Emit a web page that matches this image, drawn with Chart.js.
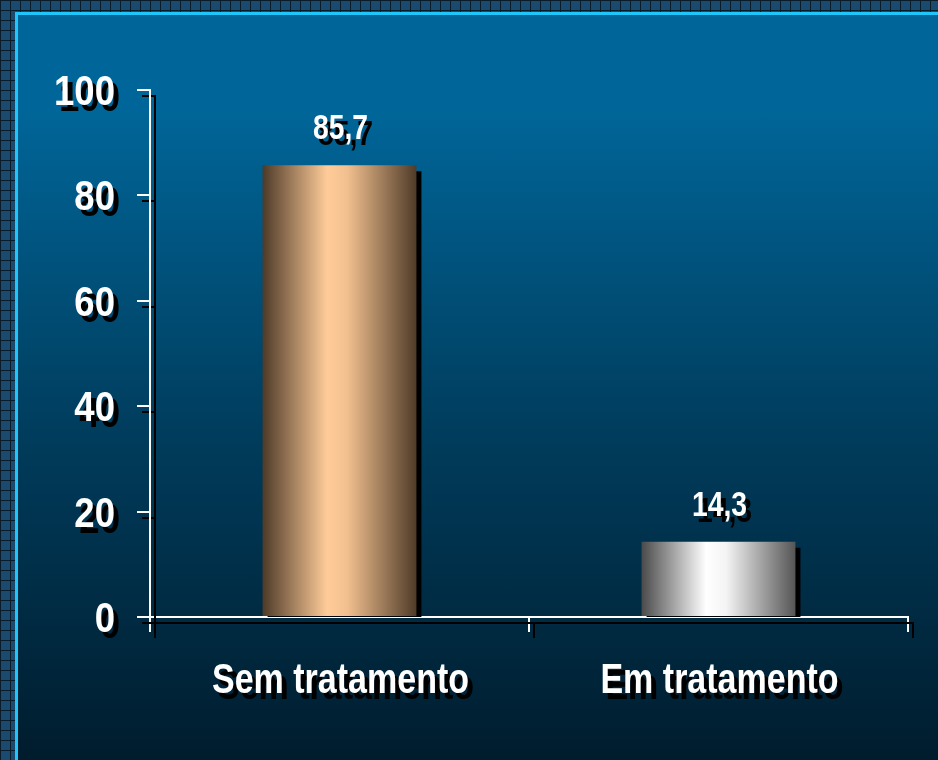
<!DOCTYPE html>
<html>
<head>
<meta charset="utf-8">
<script src="https://cdn.jsdelivr.net/npm/chart.js@4.4.1/dist/chart.umd.min.js"></script>
<style>
  html, body { margin:0; padding:0; width:938px; height:760px; overflow:hidden; }
  body {
    background-color:#1b4a6f;
    background-image:
      linear-gradient(to right, #0a1b2a 1px, transparent 1px),
      linear-gradient(to bottom, #0a1b2a 1px, transparent 1px);
    background-size:10px 10px;
    position:relative;
  }
  #panel {
    position:absolute; left:15px; top:12px; width:940px; height:770px;
    border:3px solid #1ec6fb;
    background:linear-gradient(to bottom, #006699 0%, #006699 12%, #003c5c 55%, #001a2a 100%);
  }
  #wrap { position:absolute; left:0; top:0; width:938px; height:760px; }
</style>
</head>
<body>
<div id="panel"></div>
<div id="wrap"><canvas id="c" width="938" height="760"></canvas></div>
<script>
const categories = ['Sem tratamento', 'Em tratamento'];
const values = [85.7, 14.3];
const yTicks = [0, 20, 40, 60, 80, 100];

const FONT = "'Liberation Sans', Arial, sans-serif";
const BAR_PCT = 0.406;

const gradStops = [
  [[0, '#4e3a28'], [0.42, '#ffcc99'], [0.55, '#f2c08f'], [1, '#4f3b29']],
  [[0, '#4a4a4a'], [0.42, '#ffffff'], [0.55, '#f4f4f4'], [1, '#555555']]
];

function barFill(ctx) {
  const chart = ctx.chart;
  const xs = chart.scales.x;
  if (!xs || !chart.chartArea) return '#ccc';
  const i = ctx.dataIndex;
  const cx = xs.getPixelForValue(i);
  const w = (chart.chartArea.right - chart.chartArea.left) / categories.length * BAR_PCT;
  const g = chart.ctx.createLinearGradient(cx - w / 2, 0, cx + w / 2, 0);
  gradStops[i].forEach(s => g.addColorStop(s[0], s[1]));
  return g;
}

// draw condensed text (the reference uses a narrow bold face)
function condText(c, txt, x, y, size, sx, align) {
  c.save();
  c.font = 'bold ' + size + 'px ' + FONT;
  c.fillStyle = '#ffffff';
  c.textBaseline = 'alphabetic';
  c.textAlign = align;
  c.translate(x, y);
  c.scale(sx, 1);
  c.fillText(txt, 0, 0);
  c.restore();
}

const shadowPlugin = {
  id: 'shadow',
  beforeDraw(chart) {
    const c = chart.ctx;
    c.shadowColor = '#000';
    c.shadowOffsetX = 5;
    c.shadowOffsetY = 6;
    c.shadowBlur = 0;
  },
  afterDraw(chart) {
    const c = chart.ctx;
    const meta = chart.getDatasetMeta(0);
    // value labels above bars
    meta.data.forEach((bar, i) => {
      const txt = values[i].toFixed(1).replace('.', ',');
      condText(c, txt, bar.x + 1, bar.y - 26, 35, 0.81, 'center');
    });
    // y tick labels
    const ys = chart.scales.y;
    const yOpt = ys.options;
    const xRight = ys.right - yOpt.grid.tickLength - yOpt.ticks.padding;
    ys.ticks.forEach(t => {
      condText(c, String(t.value), xRight, ys.getPixelForValue(t.value) + 15, 42, 0.87, 'right');
    });
    // x category labels
    const xs = chart.scales.x;
    categories.forEach((lab, i) => {
      condText(c, lab, xs.getPixelForValue(i) + 1, xs.top + 76, 42, 0.81, 'center');
    });
    c.shadowColor = 'rgba(0,0,0,0)';
    c.shadowOffsetX = 0;
    c.shadowOffsetY = 0;
  }
};

new Chart(document.getElementById('c'), {
  type: 'bar',
  data: {
    labels: categories,
    datasets: [{
      data: values,
      backgroundColor: barFill,
      borderWidth: 0,
      barPercentage: BAR_PCT,
      categoryPercentage: 1
    }]
  },
  options: {
    responsive: false,
    animation: false,
    events: [],
    layout: { padding: { top: 90, right: 30, left: 0, bottom: 0 } },
    plugins: { legend: { display: false }, tooltip: { enabled: false } },
    scales: {
      x: {
        z: 1,
        offset: true,
        border: { display: true, color: '#ffffff', width: 2 },
        grid: { display: true, offset: true, drawOnChartArea: false, drawTicks: true, tickLength: 15, color: '#ffffff', lineWidth: 2 },
        ticks: { display: false },
        afterFit(scale) { scale.height = 143; }
      },
      y: {
        z: 1,
        min: 0,
        max: 100,
        afterBuildTicks(scale) { scale.ticks = yTicks.map(v => ({ value: v })); },
        border: { display: true, color: '#ffffff', width: 2 },
        grid: { display: true, drawOnChartArea: false, drawTicks: true, tickLength: 13, color: '#ffffff', lineWidth: 2 },
        ticks: { display: false, padding: 22 },
        afterFit(scale) { scale.width = 150; }
      }
    }
  },
  plugins: [shadowPlugin]
});
</script>
</body>
</html>
